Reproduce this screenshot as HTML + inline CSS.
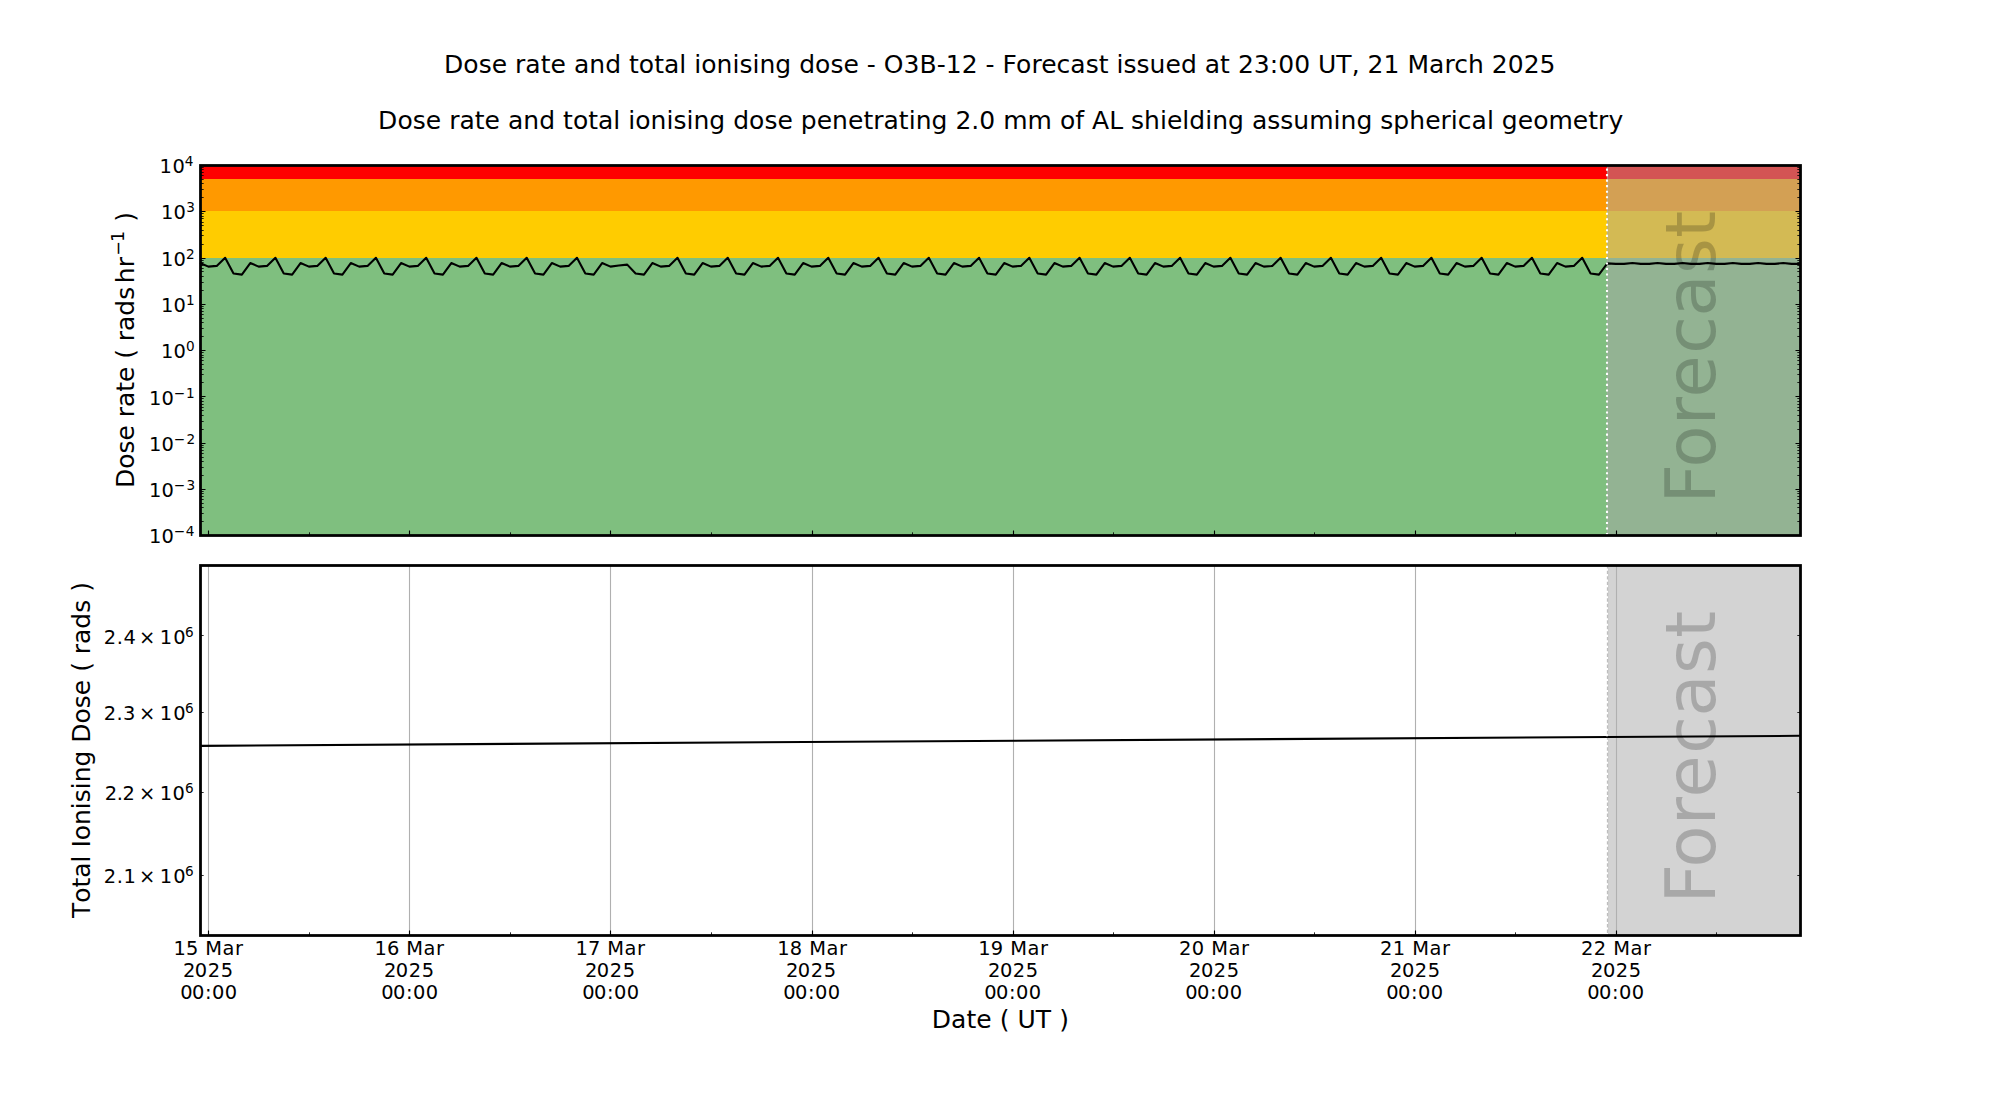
<!DOCTYPE html>
<html lang="en"><head><meta charset="utf-8">
<title>Dose rate and total ionising dose - O3B-12</title>
<style>
html,body{margin:0;padding:0;background:#fff;}
body{width:2000px;height:1100px;overflow:hidden;}
svg{display:block;}
text{font-family:"DejaVu Sans","Liberation Sans",sans-serif;fill:#000;white-space:pre;font-kerning:none;font-variant-ligatures:none;}
.t18{font-size:25px;}
.kern{font-kerning:normal;}
.t14{font-size:19.444px;}
.sup{font-size:13.611px;}
.sup18{font-size:17.5px;}
.fc{font-size:68.6px;fill:#000;fill-opacity:0.2;}
.sp{fill:none;stroke:#000;stroke-width:2.7778;stroke-linejoin:miter;}
.tk{stroke:#000;stroke-width:1.1111;fill:none;}
.tkm{stroke:#000;stroke-width:0.8333;fill:none;}
.gr{stroke:#b0b0b0;stroke-width:1.1111;fill:none;}
.ln{fill:none;stroke:#000;stroke-width:2.0833;stroke-linejoin:round;stroke-linecap:butt;}
.dot{fill:none;stroke:#fff;stroke-width:2.0833;stroke-dasharray:2.0833 3.4375;}
.span{fill:#a8a8a8;fill-opacity:0.5;shape-rendering:crispEdges;}
.spe{fill:none;stroke:#a9a9a9;stroke-opacity:0.5;stroke-width:1.3889;}
.band{shape-rendering:crispEdges;}
</style></head><body>
<svg width="2000" height="1100" viewBox="0 0 2000 1100">
<rect x="0" y="0" width="2000" height="1100" fill="#ffffff"/>
<g id="axes-dose-rate">
<rect class="band" x="200" y="258" width="1600" height="277" fill="#7fbf7f"/>
<rect class="band" x="200" y="211" width="1600" height="47" fill="#ffcc00"/>
<rect class="band" x="200" y="179" width="1600" height="32" fill="#ff9900"/>
<rect class="band" x="200" y="165" width="1600" height="14" fill="#ff0000"/>
<rect class="span" x="1607" y="165" width="193" height="370"/>
<path class="spe" d="M1607.5 165V535"/>
<text id="fc1" class="fc" transform="translate(1715 503.51) rotate(-90)" dx="0 -3.5 0.4 -0.5 1.4 -0.3 0.3 0.7">Forecast</text>
<polyline class="ln" points="200,263.06 208.38,266.6 216.75,265.9 225.13,257.8 233.51,273.56 241.88,274.6 250.26,263.06 258.64,266.6 267.02,265.9 275.39,257.8 283.77,273.56 292.15,274.6 300.52,263.06 308.9,266.6 317.28,265.9 325.65,257.8 334.03,273.56 342.41,274.6 350.79,263.06 359.16,266.6 367.54,265.9 375.92,257.8 384.29,273.56 392.67,274.6 401.05,263.06 409.42,266.6 417.8,265.9 426.18,257.8 434.55,273.56 442.93,274.6 451.31,263.06 459.69,266.6 468.06,265.9 476.44,257.8 484.82,273.56 493.19,274.6 501.57,263.06 509.95,266.6 518.32,265.9 526.7,257.8 535.08,273.56 543.46,274.6 551.83,263.06 560.21,266.6 568.59,265.9 576.96,257.8 585.34,273.56 593.72,274.6 602.09,263.06 610.47,266.6 618.85,265.5 627.23,264.6 635.6,273.56 643.98,274.6 652.36,263.06 660.73,266.6 669.11,265.9 677.49,257.8 685.86,273.56 694.24,274.6 702.62,263.06 710.99,266.6 719.37,265.9 727.75,257.8 736.13,273.56 744.5,274.6 752.88,263.06 761.26,266.6 769.63,265.9 778.01,257.8 786.39,273.56 794.76,274.6 803.14,263.06 811.52,266.6 819.9,265.9 828.27,257.8 836.65,273.56 845.03,274.6 853.4,263.06 861.78,266.6 870.16,265.9 878.53,257.8 886.91,273.56 895.29,274.6 903.66,263.06 912.04,266.6 920.42,265.9 928.8,257.8 937.17,273.56 945.55,274.6 953.93,263.06 962.3,266.6 970.68,265.9 979.06,257.8 987.43,273.56 995.81,274.6 1004.19,263.06 1012.57,266.6 1020.94,265.9 1029.32,257.8 1037.7,273.56 1046.07,274.6 1054.45,263.06 1062.83,266.6 1071.2,265.9 1079.58,257.8 1087.96,273.56 1096.34,274.6 1104.71,263.06 1113.09,266.6 1121.47,265.9 1129.84,257.8 1138.22,273.56 1146.6,274.6 1154.97,263.06 1163.35,266.6 1171.73,265.9 1180.1,257.8 1188.48,273.56 1196.86,274.6 1205.24,263.06 1213.61,266.6 1221.99,265.9 1230.37,257.8 1238.74,273.56 1247.12,274.6 1255.5,263.06 1263.87,266.6 1272.25,265.9 1280.63,257.8 1289.01,273.56 1297.38,274.6 1305.76,263.06 1314.14,266.6 1322.51,265.9 1330.89,257.8 1339.27,273.56 1347.64,274.6 1356.02,263.06 1364.4,266.6 1372.77,265.9 1381.15,257.8 1389.53,273.56 1397.91,274.6 1406.28,263.06 1414.66,266.6 1423.04,265.9 1431.41,257.8 1439.79,273.56 1448.17,274.6 1456.54,263.06 1464.92,266.6 1473.3,265.9 1481.68,257.8 1490.05,273.56 1498.43,274.6 1506.81,263.06 1515.18,266.6 1523.56,265.9 1531.94,257.8 1540.31,273.56 1548.69,274.6 1557.07,263.06 1565.45,266.6 1573.82,265.9 1582.2,257.8 1590.58,273.56 1598.95,274.6 1607.33,263.4 1615.71,263.9 1624.08,263.9 1632.46,263 1640.84,263.9 1649.21,263.9 1657.59,263 1665.97,263.9 1674.35,263.9 1682.72,263 1691.1,263.9 1699.48,263.9 1707.85,263 1716.23,263.9 1724.61,263.9 1732.98,263 1741.36,263.9 1749.74,263.9 1758.12,263 1766.49,263.9 1774.87,263.9 1783.25,263 1791.62,263.9 1800,263.9"/>
<path class="dot" d="M1607 535V165"/>
<path class="tk" d="M208.5 535.5v-5 M409.5 535.5v-5 M610.5 535.5v-5 M812.5 535.5v-5 M1013.5 535.5v-5 M1214.5 535.5v-5 M1415.5 535.5v-5 M1616.5 535.5v-5"/>
<path class="tkm" d="M309.5 535.5v-3.18 M510.5 535.5v-3.18 M711.5 535.5v-3.18 M912.5 535.5v-3.18 M1113.5 535.5v-3.18 M1314.5 535.5v-3.18 M1515.5 535.5v-3.18 M1716.5 535.5v-3.18"/>
<path class="tk" d="M200.5 165.5h5 M1800.5 165.5h-5 M200.5 211.5h5 M1800.5 211.5h-5 M200.5 258.5h5 M1800.5 258.5h-5 M200.5 304.5h5 M1800.5 304.5h-5 M200.5 350.5h5 M1800.5 350.5h-5 M200.5 396.5h5 M1800.5 396.5h-5 M200.5 443.5h5 M1800.5 443.5h-5 M200.5 489.5h5 M1800.5 489.5h-5 M200.5 535.5h5 M1800.5 535.5h-5"/>
<path class="tkm" d="M200.5 197.5h3.18 M1800.5 197.5h-3.18 M200.5 189.5h3.18 M1800.5 189.5h-3.18 M200.5 183.5h3.18 M1800.5 183.5h-3.18 M200.5 179.5h3.18 M1800.5 179.5h-3.18 M200.5 175.5h3.18 M1800.5 175.5h-3.18 M200.5 172.5h3.18 M1800.5 172.5h-3.18 M200.5 169.5h3.18 M1800.5 169.5h-3.18 M200.5 167.5h3.18 M1800.5 167.5h-3.18 M200.5 244.5h3.18 M1800.5 244.5h-3.18 M200.5 235.5h3.18 M1800.5 235.5h-3.18 M200.5 230.5h3.18 M1800.5 230.5h-3.18 M200.5 225.5h3.18 M1800.5 225.5h-3.18 M200.5 222.5h3.18 M1800.5 222.5h-3.18 M200.5 218.5h3.18 M1800.5 218.5h-3.18 M200.5 216.5h3.18 M1800.5 216.5h-3.18 M200.5 213.5h3.18 M1800.5 213.5h-3.18 M200.5 290.5h3.18 M1800.5 290.5h-3.18 M200.5 282.5h3.18 M1800.5 282.5h-3.18 M200.5 276.5h3.18 M1800.5 276.5h-3.18 M200.5 271.5h3.18 M1800.5 271.5h-3.18 M200.5 268.5h3.18 M1800.5 268.5h-3.18 M200.5 265.5h3.18 M1800.5 265.5h-3.18 M200.5 262.5h3.18 M1800.5 262.5h-3.18 M200.5 260.5h3.18 M1800.5 260.5h-3.18 M200.5 336.5h3.18 M1800.5 336.5h-3.18 M200.5 328.5h3.18 M1800.5 328.5h-3.18 M200.5 322.5h3.18 M1800.5 322.5h-3.18 M200.5 318.5h3.18 M1800.5 318.5h-3.18 M200.5 314.5h3.18 M1800.5 314.5h-3.18 M200.5 311.5h3.18 M1800.5 311.5h-3.18 M200.5 308.5h3.18 M1800.5 308.5h-3.18 M200.5 306.5h3.18 M1800.5 306.5h-3.18 M200.5 382.5h3.18 M1800.5 382.5h-3.18 M200.5 374.5h3.18 M1800.5 374.5h-3.18 M200.5 369.5h3.18 M1800.5 369.5h-3.18 M200.5 364.5h3.18 M1800.5 364.5h-3.18 M200.5 360.5h3.18 M1800.5 360.5h-3.18 M200.5 357.5h3.18 M1800.5 357.5h-3.18 M200.5 355.5h3.18 M1800.5 355.5h-3.18 M200.5 352.5h3.18 M1800.5 352.5h-3.18 M200.5 429.5h3.18 M1800.5 429.5h-3.18 M200.5 421.5h3.18 M1800.5 421.5h-3.18 M200.5 415.5h3.18 M1800.5 415.5h-3.18 M200.5 410.5h3.18 M1800.5 410.5h-3.18 M200.5 407.5h3.18 M1800.5 407.5h-3.18 M200.5 404.5h3.18 M1800.5 404.5h-3.18 M200.5 401.5h3.18 M1800.5 401.5h-3.18 M200.5 398.5h3.18 M1800.5 398.5h-3.18 M200.5 475.5h3.18 M1800.5 475.5h-3.18 M200.5 467.5h3.18 M1800.5 467.5h-3.18 M200.5 461.5h3.18 M1800.5 461.5h-3.18 M200.5 457.5h3.18 M1800.5 457.5h-3.18 M200.5 453.5h3.18 M1800.5 453.5h-3.18 M200.5 450.5h3.18 M1800.5 450.5h-3.18 M200.5 447.5h3.18 M1800.5 447.5h-3.18 M200.5 445.5h3.18 M1800.5 445.5h-3.18 M200.5 521.5h3.18 M1800.5 521.5h-3.18 M200.5 513.5h3.18 M1800.5 513.5h-3.18 M200.5 507.5h3.18 M1800.5 507.5h-3.18 M200.5 503.5h3.18 M1800.5 503.5h-3.18 M200.5 499.5h3.18 M1800.5 499.5h-3.18 M200.5 496.5h3.18 M1800.5 496.5h-3.18 M200.5 493.5h3.18 M1800.5 493.5h-3.18 M200.5 491.5h3.18 M1800.5 491.5h-3.18"/>
<rect class="sp" x="200.5" y="165.5" width="1600" height="370"/>
<text id="yt1_0" class="t14" letter-spacing="0.515" x="159.61" y="173">10<tspan id="yt1_0_s" class="sup" x="184.71" y="166" letter-spacing="0">4</tspan></text>
<text id="yt1_1" class="t14" letter-spacing="0.28" x="160.88" y="219">10<tspan id="yt1_1_s" class="sup" x="186.18" y="212" letter-spacing="0">3</tspan></text>
<text id="yt1_2" class="t14" letter-spacing="0.28" x="160.88" y="266">10<tspan id="yt1_2_s" class="sup" x="186.09" y="259" letter-spacing="0">2</tspan></text>
<text id="yt1_3" class="t14" letter-spacing="0.28" x="160.88" y="312">10<tspan id="yt1_3_s" class="sup" x="186.1" y="305" letter-spacing="0">1</tspan></text>
<text id="yt1_4" class="t14" letter-spacing="0.28" x="160.88" y="358">10<tspan id="yt1_4_s" class="sup" x="186.06" y="351" letter-spacing="0">0</tspan></text>
<text id="yt1_5" class="t14" letter-spacing="0.2932" x="148.88" y="405">10<tspan id="yt1_5_s" class="sup" x="173.81" y="398" letter-spacing="0.89">−1</tspan></text>
<text id="yt1_6" class="t14" letter-spacing="0.2932" x="148.88" y="451">10<tspan id="yt1_6_s" class="sup" x="173.81" y="444" letter-spacing="1.3">−2</tspan></text>
<text id="yt1_7" class="t14" letter-spacing="0.2932" x="148.88" y="497">10<tspan id="yt1_7_s" class="sup" x="173.81" y="490" letter-spacing="1.26">−3</tspan></text>
<text id="yt1_8" class="t14" letter-spacing="0.2932" x="148.88" y="543">10<tspan id="yt1_8_s" class="sup" x="173.81" y="536" letter-spacing="0.65">−4</tspan></text>
<text id="yl1" class="t18" letter-spacing="-0.04" transform="translate(134 488.02) rotate(-90)">Dose rate ( rads<tspan id="yl1_hr" x="204.88" y="0" letter-spacing="0">hr</tspan><tspan id="yl1_s" class="sup18" x="232.31" y="-10" letter-spacing="-0.9">−1</tspan><tspan id="yl1_p" x="258.24" y="0" letter-spacing="0"> )</tspan></text>
<text id="title" class="t18" letter-spacing="0.0238" x="378.12" y="129">Dose rate and total ionising dose penetrating 2.0 mm of AL shielding assuming spherical geometry</text>
</g>
<g id="axes-total-dose">
<rect class="span" x="1607" y="565" width="193" height="370"/>
<path class="spe" d="M1607.5 565V935"/>
<text id="fc2" class="fc" transform="translate(1715 903.51) rotate(-90)" dx="0 -3.5 0.4 -0.5 1.4 -0.3 0.3 0.7">Forecast</text>
<path class="gr" d="M208.5 565V935 M409.5 565V935 M610.5 565V935 M812.5 565V935 M1013.5 565V935 M1214.5 565V935 M1415.5 565V935 M1616.5 565V935"/>
<path class="ln" d="M200 745.85L1800 735.8"/>
<path class="dot" d="M1607 935V565"/>
<path class="tk" d="M208.5 935.5v-5 M409.5 935.5v-5 M610.5 935.5v-5 M812.5 935.5v-5 M1013.5 935.5v-5 M1214.5 935.5v-5 M1415.5 935.5v-5 M1616.5 935.5v-5"/>
<path class="tkm" d="M309.5 935.5v-3.18 M510.5 935.5v-3.18 M711.5 935.5v-3.18 M912.5 935.5v-3.18 M1113.5 935.5v-3.18 M1314.5 935.5v-3.18 M1515.5 935.5v-3.18 M1716.5 935.5v-3.18"/>
<path class="tkm" d="M200.5 635.5h3.18 M1800.5 635.5h-3.18 M200.5 712.5h3.18 M1800.5 712.5h-3.18 M200.5 792.5h3.18 M1800.5 792.5h-3.18 M200.5 875.5h3.18 M1800.5 875.5h-3.18"/>
<rect class="sp" x="200.5" y="565.5" width="1600" height="370"/>
<text id="yt2_0" class="t14" letter-spacing="0.6233" x="103.66" y="644">2.4<tspan id="yt2_0_x" x="139.1" y="644" letter-spacing="0">×</tspan><tspan id="yt2_0_t" x="159.72" y="644" letter-spacing="1.13">10</tspan><tspan id="yt2_0_s" class="sup" x="185" y="637" letter-spacing="0">6</tspan></text>
<text id="yt2_1" class="t14" letter-spacing="0.4" x="103.66" y="720">2.3<tspan id="yt2_1_x" x="139.1" y="720" letter-spacing="0">×</tspan><tspan id="yt2_1_t" x="159.72" y="720" letter-spacing="1.13">10</tspan><tspan id="yt2_1_s" class="sup" x="185" y="713" letter-spacing="0">6</tspan></text>
<text id="yt2_2" class="t14" letter-spacing="-0.3766" x="104.66" y="800">2.2<tspan id="yt2_2_x" x="139.1" y="800" letter-spacing="0">×</tspan><tspan id="yt2_2_t" x="159.72" y="800" letter-spacing="0.38">10</tspan><tspan id="yt2_2_s" class="sup" x="185" y="793" letter-spacing="0">6</tspan></text>
<text id="yt2_3" class="t14" letter-spacing="0.645" x="103.66" y="883">2.1<tspan id="yt2_3_x" x="139.1" y="883" letter-spacing="0">×</tspan><tspan id="yt2_3_t" x="159.72" y="883" letter-spacing="1.13">10</tspan><tspan id="yt2_3_s" class="sup" x="185" y="876" letter-spacing="0">6</tspan></text>
<text id="xt0_a" class="t14" letter-spacing="0.54" x="172.75" y="955" dx="0.7 -0.4 -0.2 -0.1 -0.15 0">15 Mar</text>
<text id="xt0_b" class="t14" letter-spacing="0.49" x="182.6" y="977" dx="0.3 -0.94 0.07 0.07">2025</text>
<text id="xt0_c" class="t14" letter-spacing="0.42" x="179.9" y="999" dx="0.3 -0.9 0 0 0">00:00</text>
<text id="xt1_a" class="t14" letter-spacing="0.54" x="373.75" y="955" dx="0.7 -0.4 -0.2 -0.1 -0.15 0">16 Mar</text>
<text id="xt1_b" class="t14" letter-spacing="0.49" x="383.6" y="977" dx="0.3 -0.94 0.07 0.07">2025</text>
<text id="xt1_c" class="t14" letter-spacing="0.42" x="380.9" y="999" dx="0.3 -0.9 0 0 0">00:00</text>
<text id="xt2_a" class="t14" letter-spacing="0.54" x="574.75" y="955" dx="0.7 -0.4 -0.2 -0.1 -0.15 0">17 Mar</text>
<text id="xt2_b" class="t14" letter-spacing="0.49" x="584.6" y="977" dx="0.3 -0.94 0.07 0.07">2025</text>
<text id="xt2_c" class="t14" letter-spacing="0.42" x="581.9" y="999" dx="0.3 -0.9 0 0 0">00:00</text>
<text id="xt3_a" class="t14" letter-spacing="0.578" x="776.57" y="955" dx="0.7 -0.4 -0.2 -0.1 -0.15 0">18 Mar</text>
<text id="xt3_b" class="t14" letter-spacing="0.49" x="785.6" y="977" dx="0.3 -0.94 0.07 0.07">2025</text>
<text id="xt3_c" class="t14" letter-spacing="0.42" x="782.9" y="999" dx="0.3 -0.9 0 0 0">00:00</text>
<text id="xt4_a" class="t14" letter-spacing="0.578" x="977.57" y="955" dx="0.7 -0.4 -0.2 -0.1 -0.15 0">19 Mar</text>
<text id="xt4_b" class="t14" letter-spacing="0.49" x="987.66" y="977" dx="0.3 -0.94 0.07 0.07">2025</text>
<text id="xt4_c" class="t14" letter-spacing="0.42" x="983.9" y="999" dx="0.3 -0.9 0 0 0">00:00</text>
<text id="xt5_a" class="t14" letter-spacing="0.558" x="1178.63" y="955" dx="0.4 -0.1 -0.2 -0.1 -0.15 0">20 Mar</text>
<text id="xt5_b" class="t14" letter-spacing="0.49" x="1188.66" y="977" dx="0.3 -0.94 0.07 0.07">2025</text>
<text id="xt5_c" class="t14" letter-spacing="0.42" x="1184.9" y="999" dx="0.3 -0.9 0 0 0">00:00</text>
<text id="xt6_a" class="t14" letter-spacing="0.558" x="1379.63" y="955" dx="0.4 -0.1 -0.2 -0.1 -0.15 0">21 Mar</text>
<text id="xt6_b" class="t14" letter-spacing="0.49" x="1389.66" y="977" dx="0.3 -0.94 0.07 0.07">2025</text>
<text id="xt6_c" class="t14" letter-spacing="0.42" x="1385.9" y="999" dx="0.3 -0.9 0 0 0">00:00</text>
<text id="xt7_a" class="t14" letter-spacing="0.558" x="1580.63" y="955" dx="0.4 -0.1 -0.2 -0.1 -0.15 0">22 Mar</text>
<text id="xt7_b" class="t14" letter-spacing="0.49" x="1590.66" y="977" dx="0.3 -0.94 0.07 0.07">2025</text>
<text id="xt7_c" class="t14" letter-spacing="0.42" x="1586.9" y="999" dx="0.3 -0.9 0 0 0">00:00</text>
<text id="xl" class="t18" letter-spacing="0.05" x="931.77" y="1028">Date ( UT )</text>
<text id="yl2" class="t18" letter-spacing="-0.017" transform="translate(90 918.1) rotate(-90)">Total Ionising Dose ( rads )</text>
</g>
<text id="suptitle" class="t18 kern" letter-spacing="0.0262" x="444.04" y="73">Dose rate and total ionising dose - O3B-12 - Forecast issued at 23:00 UT, 21 March 2025</text>
</svg>
</body></html>
